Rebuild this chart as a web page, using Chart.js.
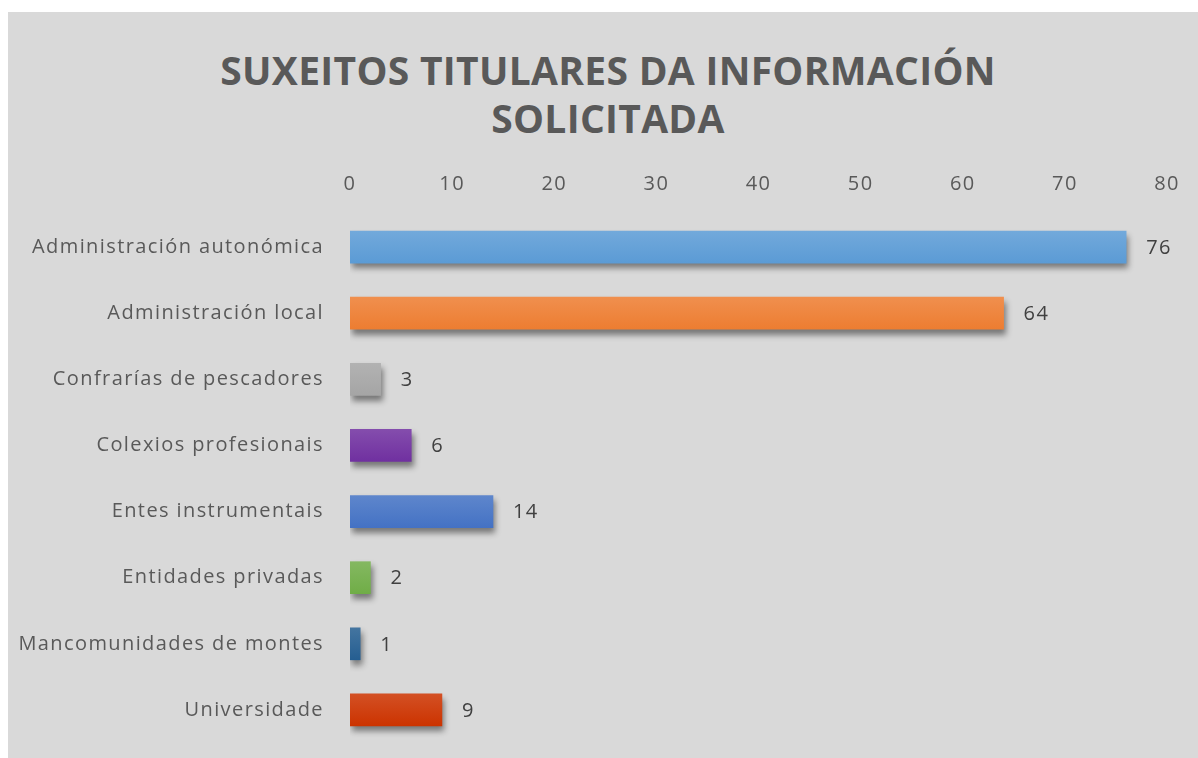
<!DOCTYPE html>
<html>
<head>
<meta charset="utf-8">
<script src="https://cdn.jsdelivr.net/npm/chart.js@4"></script>
<style>
  html, body { margin: 0; padding: 0; background: #ffffff; }
  #wrap { position: absolute; left: 8px; top: 12px; width: 1190px; height: 746px; background: #d9d9d9; }
  #chartTitle { position: absolute; left: 208px; top: 46px; width: 800px; text-align: center;
      font: bold 39px/48px "Open Sans", sans-serif; letter-spacing: 0.3px; color: #595959; }
  canvas { position: absolute; left: 8px; top: 12px; }
</style>
</head>
<body>
<div id="wrap"></div>
<div id="chartTitle"></div>
<canvas id="barChart" width="1190" height="746"></canvas>
<script>
// data
const categories = ['Administración autonómica','Administración local','Confrarías de pescadores','Colexios profesionais','Entes instrumentais','Entidades privadas','Mancomunidades de montes','Universidade'];
const values = [76, 64, 3, 6, 14, 2, 1, 9];
const barColors = ['#5b9bd5','#ed7d31','#a5a5a5','#7030a0','#4472c4','#70ad47','#255e91','#cc3300'];
const titleLines = ['SUXEITOS TITULARES DA INFORMACIÓN','SOLICITADA'];
const axisMin = 0, axisMax = 80, axisStep = 10;

document.getElementById('chartTitle').innerHTML = titleLines.join('<br>');

// lighten a hex colour a bit for the top of the gradient
function lighten(hex, amt){
    var n = parseInt(hex.slice(1),16);
    var r = (n>>16)&255, g = (n>>8)&255, b = n&255;
    r = Math.round(r+(255-r)*amt); g = Math.round(g+(255-g)*amt); b = Math.round(b+(255-b)*amt);
    return `rgb(${r},${g},${b})`;
}

const spacing = {
    id:'spacing',
    beforeDraw(chart){ chart.ctx.letterSpacing = '1.4px'; },
    afterDraw(chart){ chart.ctx.letterSpacing = '0px'; }
};

const barShadow = {
    id:'barShadow',
    beforeDatasetsDraw(chart){
        const c = chart.ctx;
        c.save();
        c.shadowColor = 'rgba(0,0,0,0.45)';
        c.shadowBlur = 6;
        c.shadowOffsetX = 2;
        c.shadowOffsetY = 5;
    },
    afterDatasetsDraw(chart){
        chart.ctx.restore();
    }
};

const valueLabels = {
    id:'valueLabels',
    afterDatasetsDraw(chart){
        const c = chart.ctx;
        const meta = chart.getDatasetMeta(0);
        c.save();
        c.font = '20px "Open Sans", sans-serif';
        c.fillStyle = '#404040';
        c.textAlign = 'left';
        c.textBaseline = 'middle';
        meta.data.forEach((bar,i)=>{
            c.fillText(String(values[i]), bar.x + 20, bar.y + 1);
        });
        c.restore();
    }
};

var ctx = document.getElementById('barChart').getContext('2d');
var chart = new Chart(ctx, {
    type: 'bar',
    data: {
        labels: categories,
        datasets: [{
            data: values,
            barThickness: 32,
            borderWidth: 0,
            backgroundColor: function(context){
                const chart = context.chart;
                const base = barColors[context.dataIndex];
                const y = chart.scales.y;
                if (!y || !chart.chartArea) return base;
                const cy = y.getPixelForValue(context.dataIndex);
                const g = chart.ctx.createLinearGradient(0, cy-16, 0, cy+16);
                g.addColorStop(0, lighten(base, 0.14));
                g.addColorStop(1, base);
                return g;
            }
        }]
    },
    options: {
        indexAxis: 'y',
        responsive: false,
        animation: false,
        layout: { padding: { top: 160, right: 31, bottom: 15, left: 10 } },
        plugins: {
            legend: { display: false },
            tooltip: { enabled: false },
            title: { display: false }
        },
        scales: {
            x: {
                position: 'top',
                min: axisMin,
                max: axisMax,
                grid: { display: false, drawTicks: true, tickLength: 18 },
                border: { display: false },
                ticks: {
                    stepSize: axisStep,
                    color: '#595959',
                    padding: 0,
                    font: { family: '"Open Sans", sans-serif', size: 20 }
                }
            },
            y: {
                grid: { display: false, drawTicks: true, tickLength: 26 },
                border: { display: false },
                afterFit(scale){ scale.width = 332; },
                ticks: {
                    color: '#595959',
                    padding: 0,
                    font: { family: '"Open Sans", sans-serif', size: 20 }
                }
            }
        }
    },
    plugins: [spacing, barShadow, valueLabels]
});
</script>
</body>
</html>
